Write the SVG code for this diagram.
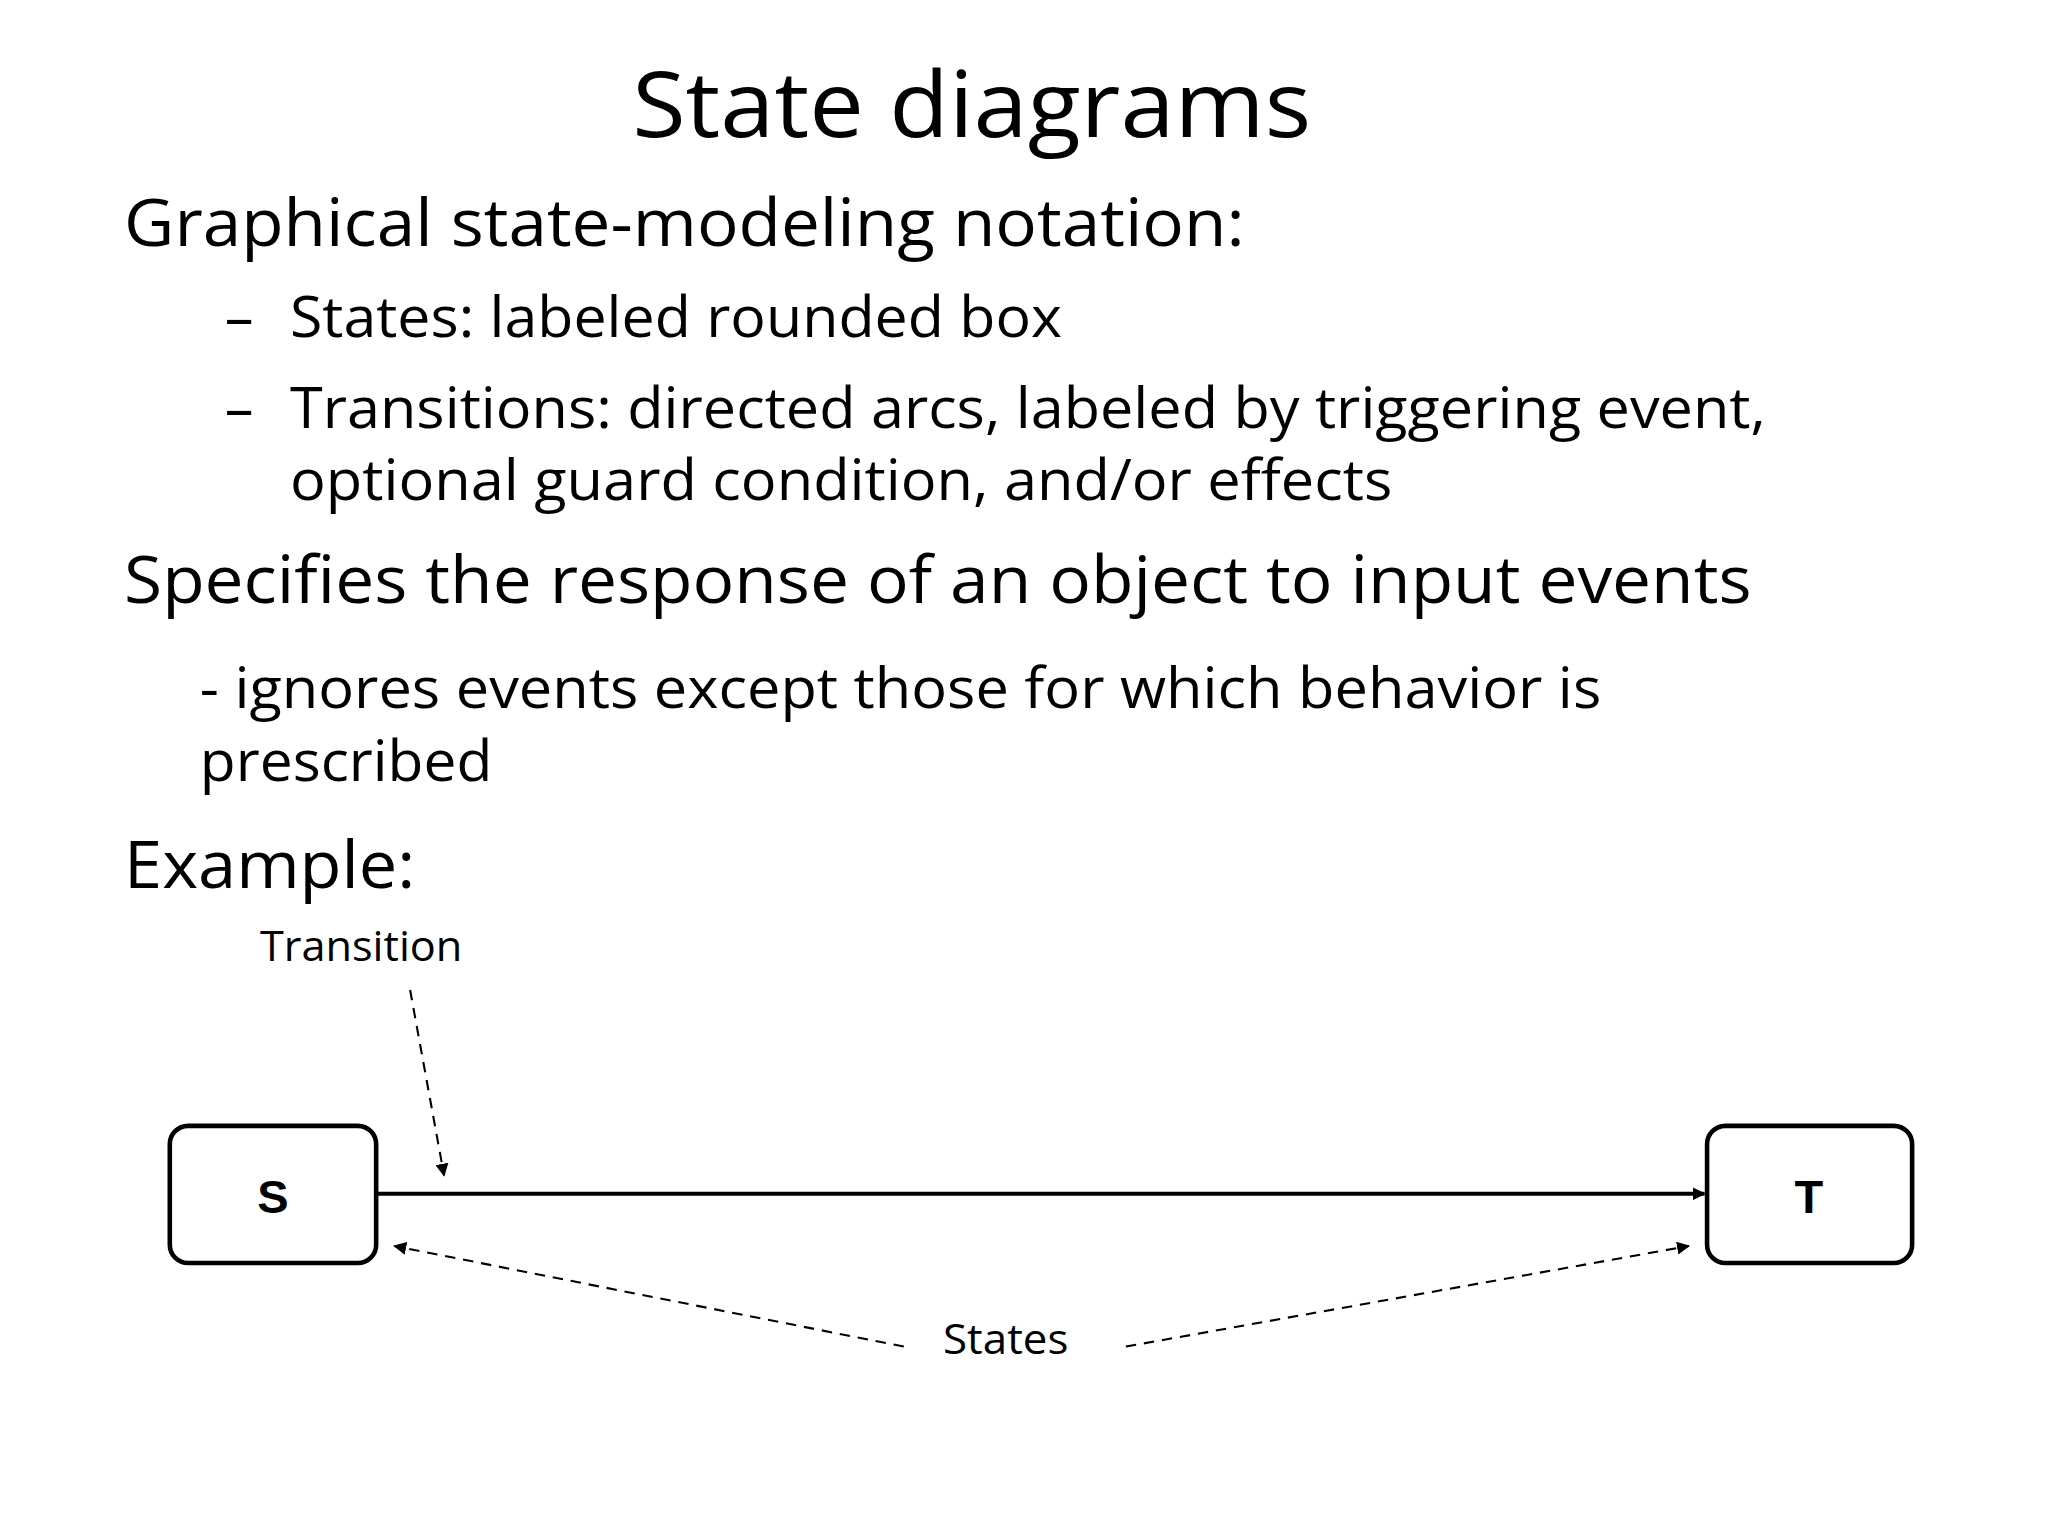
<svg xmlns="http://www.w3.org/2000/svg" width="2048" height="1536" viewBox="0 0 2048 1536">
<defs>
<style>
.t{font-family:"Open Sans","Liberation Sans",sans-serif;fill:#000}
.box{fill:#fff;stroke:#000;stroke-width:3.5}
.lbl{font-family:"Liberation Sans",Arial,sans-serif;font-weight:bold;font-size:36px;text-anchor:middle}
.dash{stroke:#000;stroke-width:1.6;stroke-dasharray:8,6;fill:none}
</style>
<marker id="ah" markerWidth="10" markerHeight="10" refX="9" refY="5" orient="auto" markerUnits="userSpaceOnUse" viewBox="0 0 10 10"><path d="M0,0 L10,5 L0,10 z" fill="#000"/></marker>
</defs>
<rect width="2048" height="1536" fill="#fff"/>
<g transform="scale(1.3061)">
<g id="text">
<text class="t" x="484" y="105" font-size="70" textLength="520" lengthAdjust="spacingAndGlyphs">State diagrams</text>
<text class="t" x="95" y="188" font-size="50" textLength="858" lengthAdjust="spacingAndGlyphs">Graphical state-modeling notation:</text>
<text class="t" x="172" y="258" font-size="44">–</text>
<text class="t" x="222" y="258" font-size="44" textLength="591" lengthAdjust="spacingAndGlyphs">States: labeled rounded box</text>
<text class="t" x="172" y="328" font-size="44">–</text>
<text class="t" x="222" y="328" font-size="44" textLength="1130" lengthAdjust="spacingAndGlyphs">Transitions: directed arcs, labeled by triggering event,</text>
<text class="t" x="222" y="383" font-size="44" textLength="844" lengthAdjust="spacingAndGlyphs">optional guard condition, and/or effects</text>
<text class="t" x="95" y="462" font-size="50" textLength="1246" lengthAdjust="spacingAndGlyphs">Specifies the response of an object to input events</text>
<text class="t" x="153" y="542" font-size="44" textLength="1073" lengthAdjust="spacingAndGlyphs">- ignores events except those for which behavior is</text>
<text class="t" x="153" y="598" font-size="44" textLength="224" lengthAdjust="spacingAndGlyphs">prescribed</text>
<text class="t" x="95" y="680" font-size="50" textLength="223" lengthAdjust="spacingAndGlyphs">Example:</text>
<text class="t" x="199" y="736" font-size="32" textLength="155" lengthAdjust="spacingAndGlyphs">Transition</text>
<text class="t" x="722" y="1037" font-size="32" textLength="96" lengthAdjust="spacingAndGlyphs">States</text>
</g>
<g id="node-S"><rect class="box" x="130" y="862" width="158" height="105" rx="14"/><text class="lbl" x="209" y="929">S</text></g>
<g id="node-T"><rect class="box" x="1307" y="862" width="157" height="105" rx="14"/><text class="lbl" x="1385" y="929">T</text></g>
<g id="connectors">
<line x1="289" y1="914" x2="1305" y2="914" stroke="#000" stroke-width="3" marker-end="url(#ah)"/>
<line class="dash" x1="314" y1="758" x2="340" y2="900" marker-end="url(#ah)"/>
<line class="dash" x1="692" y1="1031" x2="302" y2="954" marker-end="url(#ah)"/>
<line class="dash" x1="862" y1="1031" x2="1293" y2="954" marker-end="url(#ah)"/>
</g>
</g>
</svg>
